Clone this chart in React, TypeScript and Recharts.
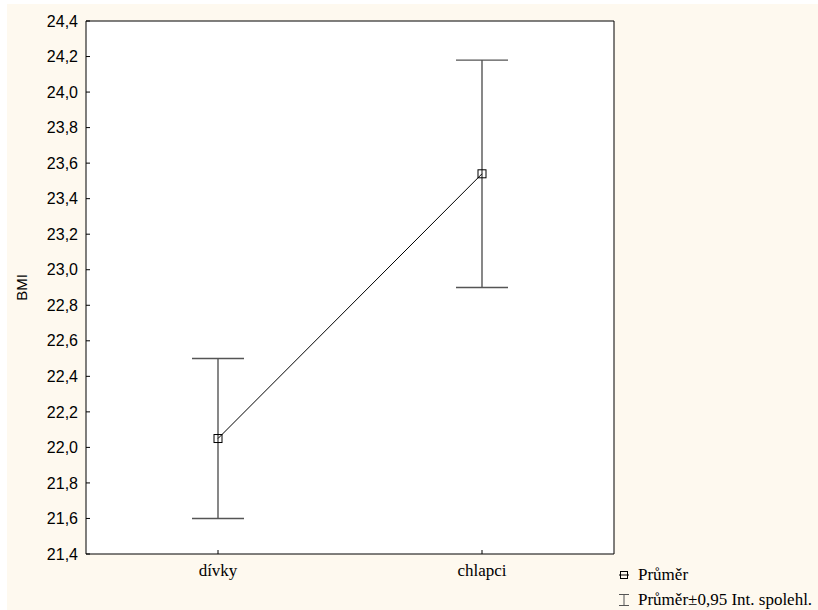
import React from 'react'
import { ComposedChart, Line, ErrorBar, XAxis, YAxis, CartesianGrid } from 'recharts'

const categories = ['dívky', 'chlapci']
const means = [22.05, 23.54]
const lower = [21.6, 22.9]
const upper = [22.5, 24.18]
const yTicks = [21.4, 21.6, 21.8, 22.0, 22.2, 22.4, 22.6, 22.8, 23.0, 23.2, 23.4, 23.6, 23.8, 24.0, 24.2, 24.4]
const legendLabels = ['Průměr', 'Průměr±0,95 Int. spolehl.']

const data = categories.map((name, i) => ({
  name,
  mean: means[i],
  err: [means[i] - lower[i], upper[i] - means[i]],
}))

const CREAM = '#fef9ef'
const SANS = '"Liberation Sans", Arial, sans-serif'
const SERIF = '"Liberation Serif", "Times New Roman", serif'

const fmt = (v: number) => v.toFixed(1).replace('.', ',')

const SquareDot = (props: any) => {
  const { cx, cy, index } = props
  if (cx == null || cy == null) return null
  return <rect key={`dot-${index}`} x={cx - 4} y={cy - 4} width={8} height={8} fill="none" stroke="#000" strokeWidth={1} />
}

export default function App() {
  return (
    <div style={{ position: 'absolute', left: 0, top: 0, width: 818, height: 610, background: '#fff' }}>
      <div style={{ position: 'absolute', left: 7, top: 4, right: 0, bottom: 0, background: CREAM }} />
      <div style={{ position: 'absolute', left: 0, top: 0 }}>
        <ComposedChart width={818} height={610} data={data} margin={{ top: 20, right: 203, bottom: 26, left: 0 }}>
          <CartesianGrid fill="#fff" stroke="none" horizontal={false} vertical={false} />
          <XAxis
            dataKey="name"
            scale="band"
            height={30}
            axisLine={{ stroke: '#000' }}
            tickLine={{ stroke: '#000' }}
            tickSize={-4}
            tickMargin={14}
            tick={{ fill: '#000', fontFamily: SERIF, fontSize: 17 }}
          />
          <XAxis
            xAxisId="top"
            dataKey="name"
            scale="band"
            orientation="top"
            height={1}
            axisLine={{ stroke: '#000' }}
            tickLine={{ stroke: '#000' }}
            tickSize={-4}
            tick={false}
          />
          <YAxis
            width={86}
            domain={[21.4, 24.4]}
            ticks={yTicks}
            allowDataOverflow
            axisLine={{ stroke: '#000' }}
            tickLine={{ stroke: '#000' }}
            tickSize={-4}
            tickMargin={12}
            tickFormatter={fmt}
            tick={{ fill: '#000', fontFamily: SANS, fontSize: 16 }}
            label={{ value: 'BMI', angle: -90, position: 'insideLeft', offset: 22, style: { fill: '#000', fontFamily: SANS, fontSize: 15, textAnchor: 'middle' } }}
          />
          <YAxis
            yAxisId="right"
            orientation="right"
            width={1}
            domain={[21.4, 24.4]}
            ticks={yTicks}
            allowDataOverflow
            axisLine={{ stroke: '#000' }}
            tickLine={{ stroke: '#000' }}
            tickSize={-4}
            tick={false}
          />
          <Line
            dataKey="mean"
            stroke="#000"
            strokeWidth={1}
            dot={SquareDot}
            activeDot={false}
            isAnimationActive={false}
          >
            <ErrorBar dataKey="err" direction="y" width={26} stroke="#555" strokeWidth={1.4} isAnimationActive={false} />
          </Line>
        </ComposedChart>
      </div>
      <div style={{ position: 'absolute', left: 618, top: 562, fontFamily: SERIF, fontSize: 17, color: '#000', lineHeight: '25px' }}>
        <div style={{ display: 'flex', alignItems: 'center' }}>
          <svg width={14} height={12} style={{ marginRight: 6 }}>
            <line x1={1} y1={6} x2={11} y2={6} stroke="#000" />
            <rect x={2.5} y={2.5} width={7} height={7} fill="none" stroke="#000" />
          </svg>
          {legendLabels[0]}
        </div>
        <div style={{ display: 'flex', alignItems: 'center' }}>
          <svg width={14} height={14} style={{ marginRight: 6 }}>
            <line x1={1} y1={1.5} x2={11} y2={1.5} stroke="#555" />
            <line x1={6} y1={1.5} x2={6} y2={12.5} stroke="#555" />
            <line x1={1} y1={12.5} x2={11} y2={12.5} stroke="#555" />
          </svg>
          {legendLabels[1]}
        </div>
      </div>
    </div>
  )
}
